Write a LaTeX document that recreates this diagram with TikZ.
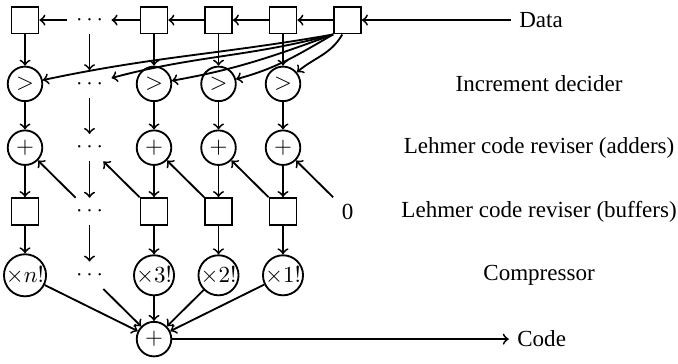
\documentclass[tikz,border=0pt]{standalone}
\usepackage[no-math]{fontspec}
\setmainfont{Liberation Serif}
\usepackage{tikz}
\usetikzlibrary{
    arrows,
    positioning
}

\begin{document}
\begin{tikzpicture}[x=28pt, y=27.7pt, thick,
    reg/.style={draw, minimum size=11.7pt, inner sep=0pt},
    op/.style={draw, circle, minimum size=15pt, inner sep=0pt}]
                                \useasboundingbox (-0.388, 0.3145) rectangle (10.124, -5.377);
                                % data registers
                                \node[reg] (rn) at (0, 0) {};
                                \node (rd) at (1, 0) {$\cdots$};
                                \node[reg] (r3) at (2, 0) {};
                                \node[reg] (r2) at (3, 0) {};
                                \node[reg] (r1) at (4, 0) {};
                                \node[reg] (rin) at (5, 0) {};
                                \node[anchor=west] (data) at (7.53, 0) {Data};
                                % increment decider
                                \node[op] (gn) at (0, -1) {$>$};
                                \node (gd) at (1, -1) {$\cdots$};
                                \node[op] (g3) at (2, -1) {$>$};
                                \node[op] (g2) at (3, -1) {$>$};
                                \node[op] (g1) at (4, -1) {$>$};
                                \node (ldec) at (7.97, -1) {Increment decider};
                                % adders
                                \node[op] (an) at (0, -2) {$+$};
                                \node (ad) at (1, -2) {$\cdots$};
                                \node[op] (a3) at (2, -2) {$+$};
                                \node[op] (a2) at (3, -2) {$+$};
                                \node[op] (a1) at (4, -2) {$+$};
                                \node (ladd) at (7.97, -2) {Lehmer code reviser (adders)};
                                % buffers
                                \node[reg] (bn) at (0, -3) {};
                                \node (bd) at (1, -3) {$\cdots$};
                                \node[reg] (b3) at (2, -3) {};
                                \node[reg] (b2) at (3, -3) {};
                                \node[reg] (b1) at (4, -3) {};
                                \node (zero) at (5, -3) {0};
                                \node (lbuf) at (7.97, -3) {Lehmer code reviser (buffers)};
                                % compressor
                                \node[op] (mn) at (0, -4) {$\times n!$};
                                \node (md) at (1, -4) {$\cdots$};
                                \node[op] (m3) at (2, -4) {$\times 3!$};
                                \node[op] (m2) at (3, -4) {$\times 2!$};
                                \node[op] (m1) at (4, -4) {$\times 1!$};
                                \node (lcomp) at (7.97, -4) {Compressor};
                                % output
                                \node[op] (sum) at (2, -5) {$+$};
                                \node[anchor=west] (code) at (7.5, -5) {Code};
                                % shift chain
                                \draw[->] (data) -- (rin);
                                \draw[->] (rin) -- (r1);
                                \draw[->] (r1) -- (r2);
                                \draw[->] (r2) -- (r3);
                                \draw[->] (r3) -- (rd);
                                \draw[->] (rd) -- (rn);
                                % comparisons with the new value
                                \draw[->] (rin.250) to[out=240, in=40] (g1);
                                \draw[->] (rin.south west) to[out=210, in=15] (g2);
                                \draw[->] (rin.south west) to[out=200, in=10] (g3);
                                \draw[->] (rin.south west) to[out=195, in=15] (gd);
                                \draw[->] (rin.south west) to[out=190, in=12] (gn);
                                % columns
                                \draw[->] (rn) -- (gn);
                                \draw[->] (gn) -- (an);
                                \draw[->] (an) -- (bn);
                                \draw[->] (bn) -- (mn);
                                \draw[->] (rd) -- (gd);
                                \draw[->] (gd) -- (ad);
                                \draw[->] (ad) -- (bd);
                                \draw[->] (bd) -- (md);
                                \draw[->] (r3) -- (g3);
                                \draw[->] (g3) -- (a3);
                                \draw[->] (a3) -- (b3);
                                \draw[->] (b3) -- (m3);
                                \draw[->] (r2) -- (g2);
                                \draw[->] (g2) -- (a2);
                                \draw[->] (a2) -- (b2);
                                \draw[->] (b2) -- (m2);
                                \draw[->] (r1) -- (g1);
                                \draw[->] (g1) -- (a1);
                                \draw[->] (a1) -- (b1);
                                \draw[->] (b1) -- (m1);
                                % carries into the adders
                                \draw[->] (zero) -- (a1);
                                \draw[->] (b1) -- (a2);
                                \draw[->] (b2) -- (a3);
                                \draw[->] (b3) -- (ad);
                                \draw[->] (bd) -- (an);
                                % sum
                                \draw[->] (mn) -- (sum);
                                \draw[->] (md) -- (sum);
                                \draw[->] (m3) -- (sum);
                                \draw[->] (m2) -- (sum);
                                \draw[->] (m1) -- (sum);
                                \draw[->] (sum) -- (code);
                            \end{tikzpicture}
\end{document}
